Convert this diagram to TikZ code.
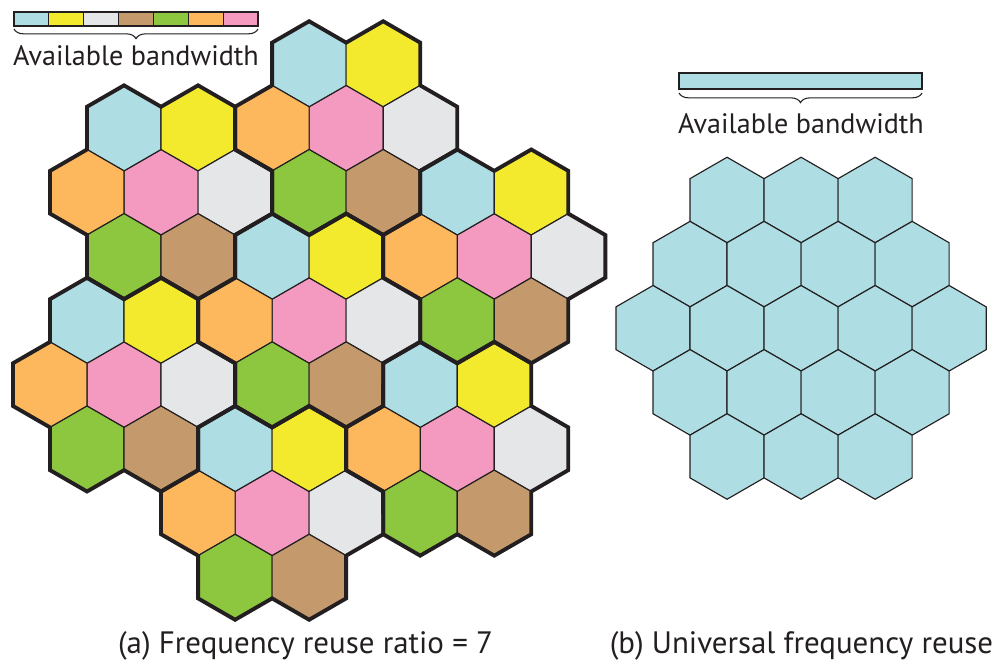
\documentclass[tikz,border=0pt]{standalone}
\usepackage{fontspec}
\setmainfont{PT Sans}
\usetikzlibrary{decorations.pathreplacing}

\definecolor{ink}{RGB}{35,31,32}
\definecolor{bandcyan}{RGB}{174,221,227}
\definecolor{bandyellow}{RGB}{243,234,46}
\definecolor{bandgray}{RGB}{229,230,232}
\definecolor{bandbrown}{RGB}{196,154,108}
\definecolor{bandgreen}{RGB}{141,198,63}
\definecolor{bandorange}{RGB}{253,184,94}
\definecolor{bandpink}{RGB}{244,154,193}

% one pointy-top cell of radius 42.75 centred at (#1,#2)
\newcommand{\hexcell}[3]{%
  \filldraw[cell, fill=#3] ({#1},{#2}) +(30:42.75) -- +(90:42.75) -- +(150:42.75)
    -- +(210:42.75) -- +(270:42.75) -- +(330:42.75) -- cycle;}

\begin{document}
\begin{tikzpicture}[
    x=0.02cm, y=-0.02cm,
    cell/.style={draw=ink, line width=0.65pt, line join=miter},
    cluster/.style={draw=ink, line width=2.2pt, line join=miter},
    band/.style={draw=ink, line width=0.6pt},
    brace/.style={draw=ink, line width=0.6pt, decorate, decoration={brace, mirror, amplitude=5.5pt}},
    label/.style={anchor=base, inner sep=0pt, text=ink, font=\fontsize{16}{19}\selectfont},
    caption/.style={label, font=\fontsize{17.6}{21}\selectfont}
]
    \useasboundingbox (0,0) rectangle (997,663);

    % (a) seven clusters, pink cell in the middle of each
    \foreach \ck/\cr in {8/1, 3/2, 12/3, 7/4, 2/5, 11/6, 6/7} {
        \foreach \dk/\dr/\col in {0/0/bandpink, -1/-1/bandcyan, 1/-1/bandyellow,
                -2/0/bandorange, 2/0/bandgray, -1/1/bandgreen, 1/1/bandbrown} {
            \hexcell{50+37.02*(\ck+\dk)}{64+64.125*(\cr+\dr)}{\col}
        }
    }

    % thick border round every cluster
    \foreach \ck/\cr in {8/1, 3/2, 12/3, 7/4, 2/5, 11/6, 6/7}
        \draw[cluster, shift={({50+37.02*\ck},{64+64.125*\cr})}]
            (-30:85.5) \foreach \t in {0,60,...,300} {
                -- (\t-10.89:113.11) -- (\t+10.89:113.11) -- (\t+30:85.5)} -- cycle;

    % band split in seven
    \foreach \col [count=\i from 0] in {bandcyan,bandyellow,bandgray,bandbrown,bandgreen,bandorange,bandpink}
        \filldraw[band, fill=\col] ({14+34.86*\i},12) rectangle ++(34.86,14);
    \coordinate (bandA-w) at (14,29);
    \coordinate (bandA-e) at (258,29);
    \draw[brace] (bandA-w) -- (bandA-e);
    \node[label] (bwA) at (136,65) {Available bandwidth};

    % (b) every cell uses the whole band
    \foreach \k/\r in {2/0,4/0,6/0, 1/1,3/1,5/1,7/1, 0/2,2/2,4/2,6/2,8/2,
            1/3,3/3,5/3,7/3, 2/4,4/4,6/4} {
        \hexcell{653+37.02*\k}{200+64.125*\r}{bandcyan}
    }

    \filldraw[band, fill=bandcyan] (679,73) rectangle (922,89);
    \coordinate (bandB-w) at (679,93);
    \coordinate (bandB-e) at (922,93);
    \draw[brace] (bandB-w) -- (bandB-e);
    \node[label] (bwB) at (801,133) {Available bandwidth};

    % captions
    \node[caption] (capA) at (305.5,653) {(a) Frequency reuse ratio = 7};
    \node[caption] (capB) at (801.5,653) {(b) Universal frequency reuse};
\end{tikzpicture}
\end{document}
